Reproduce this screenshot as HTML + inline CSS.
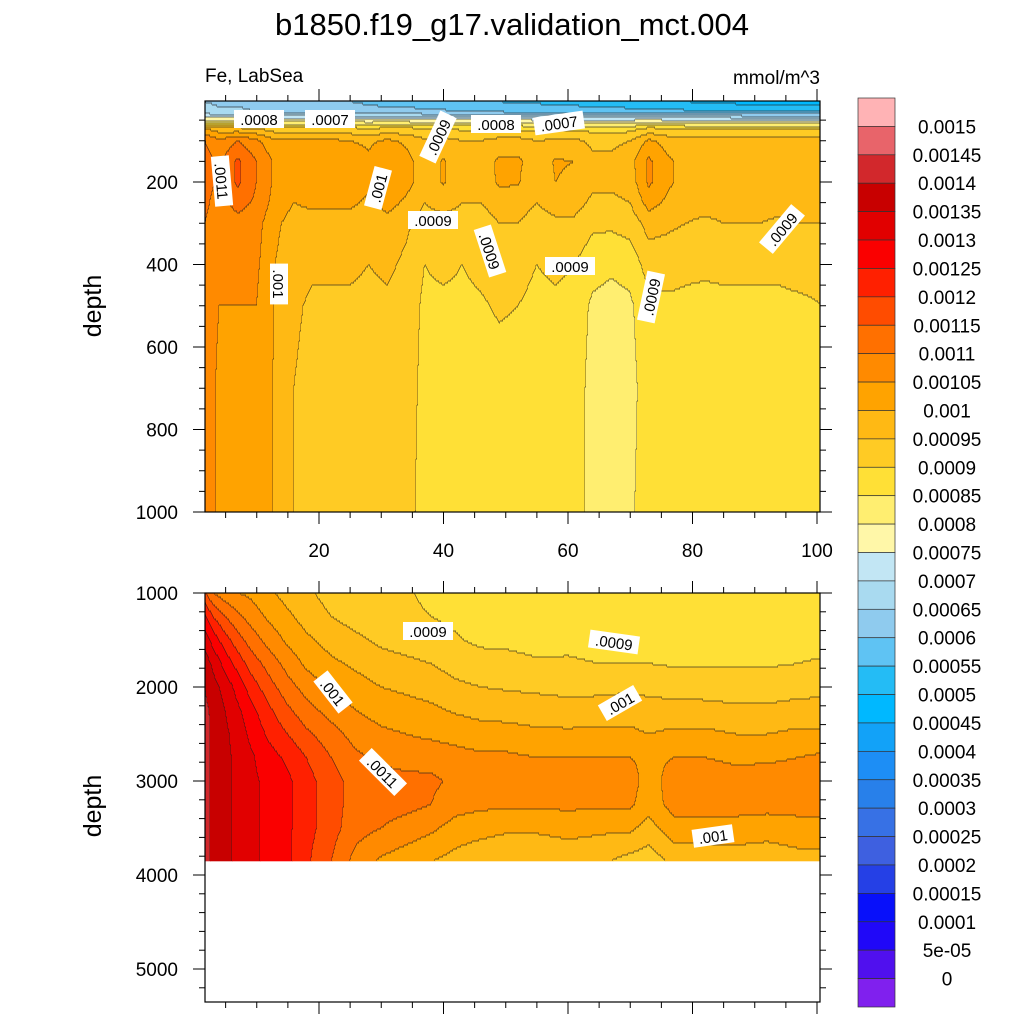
<!DOCTYPE html>
<html><head><meta charset="utf-8"><style>
html,body{margin:0;padding:0;background:#fff;}
svg{display:block;font-family:"Liberation Sans",Arial,sans-serif;}
</style></head><body>
<svg id="chart" width="1024" height="1024" viewBox="0 0 1024 1024" xmlns="http://www.w3.org/2000/svg">
<text x="512" y="35" font-size="31" text-anchor="middle">b1850.f19_g17.validation_mct.004</text>
<text x="205" y="82" font-size="19">Fe, LabSea</text>
<text x="820" y="84" font-size="19" text-anchor="end">mmol/m^3</text>
<text x="0" y="0" font-size="25" text-anchor="middle" transform="translate(101,306) rotate(-90)">depth</text>
<text x="0" y="0" font-size="25" text-anchor="middle" transform="translate(101,806) rotate(-90)">depth</text>
<g id="topPanel"></g>
<g id="botPanel"></g>
<g id="colorbar"></g>
</svg>
<script>
// ---- data (values in units of 1e-5 mmol/m^3) ----
const topX=[1.7,4,7,10,13,16,19,22,25,28,31,34,37,40,43,46,49,52,55,58,61,64,67,70,73,76,79,82,85,88,91,94,97,101];
const topDepth=[5,30,50,70,100,150,200,250,300,400,500,700,1000];
const topValues=[
[65,67,80,100,110,112,112,111,110,109,108,108,108],
[64,66,79,97,106,109,109,108,107,106,105,104,104],
[64,66,78,96,110,116,116,112,108,106,105,104,103],
[63,65,78,95,106,110,110,109,107,106,105,104,103],
[63,65,78,92,101,104,104,103,101,100,99.5,99.5,99.5],
[62,64,78,91,101,104,103,100,98,97,96,95,95],
[61,64,78,91,101,104,104,101,98,96,94,93,93],
[61,63,77,91,101,105,105,101,98,96,94,93,93],
[60,63,77,91,100,104,104,101,98,96,94,93,93],
[59,62,77,90,99,101,101,99,97,95,93.5,93,93],
[58,62,77,91,101,105,105,102,98,96,94,93,93],
[58,62,77,91,99,102,102,99,96,94,93,92.5,92],
[57,61,76,90,96,97,97,95,93,90,89,88.5,88],
[56,61,76,90,97,100.5,100.5,97,93,91,89,88,88],
[56,60,76,89,95,97,97,95,93,90,89,88,88],
[55,60,76,89,95,97,96,95,93,91,89.5,88,88],
[55,60,76,89,97,101,101,97,95,92,90.5,88,88],
[54,59,76,89,97,101,100.5,97,95,92,90,88,88],
[54,59,75,88,95,97,96,95,93,90,88.5,88,88],
[53,59,75,89,96,100.5,100,97,94,91,89,88,88],
[53,58,75,89,96,100,99,97,94,90,88.5,88,88],
[52,58,75,88,94,96,96,94,91,87,84,83,83],
[52,58,75,88,94,96,96,94,91,86,83,82,82],
[51,57,75,88,95,98,97,95,92,87,84,83,84],
[51,57,76,91,101,106,106,102,97,92,89,88,88],
[50,57,75,90,98,101,101,99,96,92,89,88,87],
[50,56,75,89,97,98,98,97,95,91,89,87.5,86],
[49,56,75,89,97,98,98,97,94,91,88.5,87,86],
[49,56,75,89,97,98,98,97,95,91,89,88,88],
[48,55,75,89,97,98,98,97,95,91,89,87,86],
[48,55,75,89,97,98,98,97,95,91,89,88,88],
[48,55,75,89,97,98,98,97,94,91,89,87.5,87],
[47,55,75,89,97,98,98,97,95,92,89,88,86],
[47,55,75,89,97,98,98,97,95,92,90,88,88]];
const botX=[1.7,3,5,7,9,12,15,18,22,26,30,34,38,42,46,50,55,60,65,70,73,77,82,87,92,97,101];
const botDepth=[1000,1250,1500,1750,2000,2250,2500,2750,3000,3250,3500,3860];
const botValues=[
[116,126,133,138,140,141,142,142,142,142,142,142],
[110,120,128,134,137,139,139,139,139,139,139,139],
[107,115,122,128,133,135,136,136,136,136,136,136],
[105,111,117,123,128,131,133,134,134,134,134,134],
[104,108,113,118,123,127,129,131,131,131,131,131],
[101,104,108,113,117,121,124,127,129,129,129,129],
[98,101,104,108,112,116,120,124,126,126,126,126],
[96,98,101,104,108,112,116,120,122,122,122,121],
[93,95,98,101,104,108,112,115,117,117,117,115],
[92,93,96,99,102,105,108,111,113,113,112,108],
[92,92,94,97,100,103,106,109,112,112,110,104],
[91,92,93,96,99,102,105,108,111.5,111.5,108,102],
[88,90,92,95,98,101,104,108,111,110,106,100],
[88,89,90.5,93,96,99.5,103,107,109,107,103,98],
[88,88,89,92,95,98.5,102,106,108,106,102,96],
[88,88,89,91.5,94.5,98,102,106,107,106,101,95],
[88,88,88.5,90.5,94,97.5,101,105,107,106,101,95],
[89,89,89,90.5,93.5,97,101,105,107,106,102,96],
[87,88,88.5,90,93.5,97.5,101,105,107,106,101,96],
[88,88,88.5,90,94,98,101,105,107,106,101,93],
[87,88,88.5,90,93.5,97,100,104,103,102,98,92],
[87,88,88,89.5,93,97,101,105,107,107,103,96],
[87,88,88,89.5,92.5,97,101,105,108,107,103,97],
[87,88,88,89.5,92.5,96,100,104,107,107,103,97],
[87,88,88,89.5,92.5,96,100,104,108,107,102,97],
[88,88,88.5,90,93,97,101,105,108,107,103,98],
[88,88,88.5,90.5,93.5,97,101,106,108,107,103,98]];
const levelColors=["#FFB3B5","#E8646A","#D2282C","#C80000","#E10000","#FA0000","#FF2000","#FF4C00","#FF7000","#FF8A00","#FFA300","#FFB914","#FFCB24","#FFE036","#FFEE70","#FFF7A8","#C2E6F4","#A9DAF0","#8FCBEE","#5FC3F3","#24BCF5","#00B8FF","#12A2F8","#1D8EF5","#2880EA","#3771E5","#3E60E0","#2540E6","#0810FA","#2008F8","#5010EE","#8020EE"];
const colorbarLabels=["0.0015","0.00145","0.0014","0.00135","0.0013","0.00125","0.0012","0.00115","0.0011","0.00105","0.001","0.00095","0.0009","0.00085","0.0008","0.00075","0.0007","0.00065","0.0006","0.00055","0.0005","0.00045","0.0004","0.00035","0.0003","0.00025","0.0002","0.00015","0.0001","5e-05","0"];
const xTicks=[20,40,60,80,100];
const topYTicks=[200,400,600,800,1000];
const botYTicks=[1000,2000,3000,4000,5000];
const topLabels=[
 {t:".0008",x:259,y:119,r:0},{t:".0007",x:330,y:119,r:0},{t:".0009",x:438,y:137,r:-65},
 {t:".0008",x:496,y:124,r:0},{t:".0007",x:559,y:123,r:-8},{t:".0011",x:222,y:181,r:85},
 {t:".001",x:378,y:188,r:-75},{t:".0009",x:433,y:220,r:0},{t:".0009",x:490,y:251,r:72},
 {t:".0009",x:570,y:266,r:0},{t:".001",x:279,y:284,r:90},{t:".0009",x:651,y:297,r:-78},
 {t:".0009",x:782,y:229,r:-50}];
const botLabels=[
 {t:".0009",x:428,y:631,r:0},{t:".0009",x:614,y:642,r:8},{t:".001",x:333,y:692,r:52},
 {t:".001",x:620,y:703,r:-30},{t:".0011",x:383,y:772,r:45},{t:".001",x:713,y:836,r:-8}];

// ---- axes ----
const NS="http://www.w3.org/2000/svg";
const xScale=x=>194.5+6.225*x;
const xInv=px=>(px-194.5)/6.225;
const topY=d=>99.5+0.4125*d;
const topYInv=py=>(py-99.5)/0.4125;
const botY=d=>593+0.094*(d-1000);
const botYInv=py=>1000+(py-593)/0.094;
const L=205,R=820;

function el(tag,attrs,parent){const e=document.createElementNS(NS,tag);for(const k in attrs)e.setAttribute(k,attrs[k]);parent.appendChild(e);return e;}
function interp(xs,ds,vals,x,d){
  let i=0;while(i<xs.length-2&&x>xs[i+1])i++;
  let j=0;while(j<ds.length-2&&d>ds[j+1])j++;
  let tx=(x-xs[i])/(xs[i+1]-xs[i]);tx=Math.max(0,Math.min(1,tx));
  let ty=(d-ds[j])/(ds[j+1]-ds[j]);ty=Math.max(0,Math.min(1,ty));
  const a=vals[i][j],b=vals[i+1][j],c=vals[i][j+1],e=vals[i+1][j+1];
  return (a*(1-tx)+b*tx)*(1-ty)+(c*(1-tx)+e*tx)*ty;
}
function level(v){if(v>=150)return 0;if(v<0)return 31;return Math.min(31,1+Math.floor((150-v)/5));}

function drawField(g,xs,ds,vals,top,bottom,yInv,maxDepth){
  const rh=2;let prev=null;
  for(let py=top;py<bottom;py+=rh){
    const d=yInv(py+rh/2);
    if(d>maxDepth)break;
    const h=Math.min(rh,bottom-py);
    const lv=[];
    for(let px=L;px<R;px++){lv.push(level(interp(xs,ds,vals,xInv(px+0.5),d)));}
    let s=0;
    for(let k=1;k<=lv.length;k++){
      if(k===lv.length||lv[k]!==lv[s]){
        const r=el('rect',{x:L+s,y:py,width:k-s+0.5,height:h+0.3,fill:levelColors[lv[s]]},g);
        
        
        if(k<lv.length){const ln=el('rect',{x:L+k-0.4,y:py,width:0.8,height:h,fill:'#222','fill-opacity':0.8},g);
          
          }
        s=k;
      }
    }
    if(prev){
      let a=-1;
      for(let k=0;k<=lv.length;k++){
        const diff=k<lv.length&&lv[k]!==prev[k];
        if(diff&&a<0)a=k;
        if(!diff&&a>=0){const ln=el('rect',{x:L+a,y:py-0.4,width:k-a,height:0.8,fill:'#222','fill-opacity':0.8},g);
          
          a=-1;}
      }
    }
    prev=lv;
  }
}
function drawLabels(g,labels){
  labels.forEach(o=>{
    const gg=el('g',{transform:`translate(${o.x},${o.y}) rotate(${o.r})`},g);
    
    
    const w=o.t.length*9.2+4;
    el('rect',{x:-w/2,y:-9,width:w,height:18,fill:'#fff'},gg);
    const t=el('text',{x:0,y:6,'font-size':15,'text-anchor':'middle'},gg);t.textContent=o.t;
  });
}
function drawFrame(g,top,bottom,yFn,yMin,yMax,minorStep,majorTicks,showX){
  el('rect',{x:L,y:top,width:R-L,height:bottom-top,fill:'none',stroke:'#000','stroke-width':1.2},g);
  for(let x=5;x<=100;x+=5){
    const px=xScale(x),maj=x%20===0,len=maj?12:6;
    el('line',{x1:px,y1:bottom,x2:px,y2:bottom+len,stroke:'#000','stroke-width':1},g);
    el('line',{x1:px,y1:top,x2:px,y2:top-len,stroke:'#000','stroke-width':1},g);
  }
  for(let d=yMin;d<=yMax;d+=minorStep){
    const py=yFn(d);if(py<top-0.5||py>bottom+0.5)continue;
    const maj=majorTicks.includes(d),len=maj?12:6;
    el('line',{x1:L,y1:py,x2:L-len,y2:py,stroke:'#000','stroke-width':1},g);
    el('line',{x1:R,y1:py,x2:R+len,y2:py,stroke:'#000','stroke-width':1},g);
  }
  majorTicks.forEach(d=>{const t=el('text',{x:178,y:yFn(d)+7,'font-size':19,'text-anchor':'end'},g);t.textContent=d;
    });
  if(showX)xTicks.forEach(x=>{const t=el('text',{x:xScale(x),y:557,'font-size':19,'text-anchor':'middle'},g);t.textContent=x;
    });
}
const tp=document.getElementById('topPanel');
drawField(tp,topX,topDepth,topValues,101,512,topYInv,1e9);
drawLabels(tp,topLabels);
drawFrame(tp,101,512,topY,0,1000,50,topYTicks,true);
const bp=document.getElementById('botPanel');
drawField(bp,botX,botDepth,botValues,593,1002,botYInv,3860);
drawLabels(bp,botLabels);
drawFrame(bp,593,1002,botY,1000,5400,200,botYTicks,false);
// colorbar
const cb=document.getElementById('colorbar');
const cbTop=98,cbH=909/32;
levelColors.forEach((c,i)=>{
  const r=el('rect',{x:858,y:cbTop+i*cbH,width:37,height:cbH,fill:c,stroke:'#333','stroke-width':0.7},cb);
  
  
});
colorbarLabels.forEach((s,i)=>{
  const t=el('text',{x:947,y:cbTop+(i+1)*cbH+7,'font-size':19,'text-anchor':'middle'},cb);t.textContent=s;
  
  
});
</script>
</body></html>
